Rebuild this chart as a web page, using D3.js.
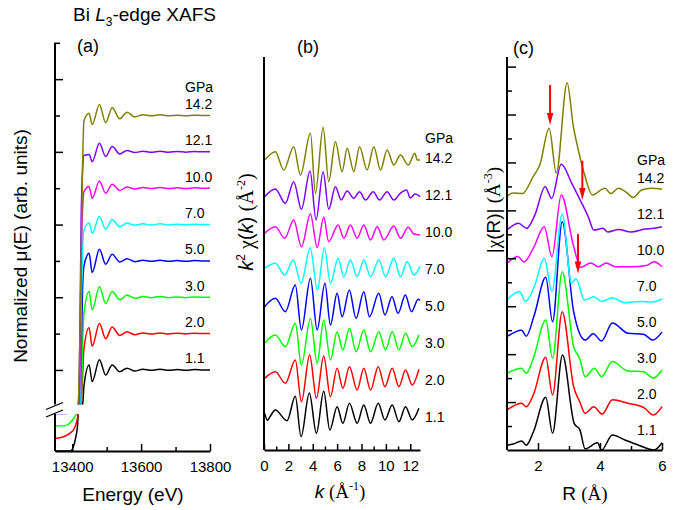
<!DOCTYPE html>
<html><head><meta charset="utf-8">
<script src="https://cdn.jsdelivr.net/npm/d3@7"></script>
<style>
body{margin:0;background:#fff}
svg text{font-family:"Liberation Sans",Arial,sans-serif;fill:#000}
</style></head>
<body><svg id="c" width="682" height="510"></svg>
<script>
// ---------- data ----------
const pressures = ["1.1","2.0","3.0","5.0","7.0","10.0","12.1","14.2"];
const colors = ["#000000","#ff0000","#00ff00","#0000ff","#00ffff","#ff00ff","#8000ff","#808000"];

// (a) XANES, normalized mu(E)
const energyGrid = [13350,13380,13395,13405,13411,13415,13418,13422,13426,13430,13434,13449,13458,13479,13497,13516,13538,13559,13582,13605,13630,13655,13680,13705,13730,13755,13780,13800];
const mu_1_1  = [0,0,0,0.048,0.12,0.19,0.32,0.55,0.78,0.88,0.955,1.014,0.968,1.028,0.986,1.014,0.995,1.005,0.997,1.002,0.999,1.002,0.999,1.001,0.999,1.001,1.000,1.000];
const mu_2_0  = [0,0.02,0.045,0.075,0.116,0.16,0.21,0.45,0.72,0.88,0.958,1.016,0.965,1.028,0.986,1.018,0.995,1.005,0.997,1.002,0.999,1.002,0.999,1.001,0.999,1.001,1.000,1.000];
const mu_3_0  = [0,0.003,0.028,0.064,0.09,0.11,0.15,0.35,0.68,0.87,0.955,1.016,0.965,1.029,0.983,1.016,0.993,1.006,0.997,1.002,0.999,1.002,0.999,1.001,0.999,1.001,1.000,1.000];
const mu_5_0  = [0,0,0.02,0.05,0.08,0.11,0.16,0.40,0.74,0.92,0.985,1.021,0.968,1.032,0.991,1.018,0.997,1.006,0.998,1.002,0.999,1.002,0.999,1.001,0.999,1.001,1.000,1.000];
const mu_7_0  = [0,0,0.02,0.05,0.08,0.11,0.17,0.42,0.77,0.93,0.985,1.004,0.976,1.022,0.987,1.013,0.994,1.004,0.998,1.002,0.999,1.002,0.999,1.001,0.999,1.001,1.000,1.000];
const mu_10_0 = [0,0,0.02,0.05,0.08,0.12,0.18,0.45,0.80,0.94,0.99,1.005,0.972,1.020,0.986,1.011,0.994,1.003,0.998,1.002,0.999,1.002,0.999,1.001,0.999,1.001,1.000,1.000];
const mu_12_1 = [0,0,0.02,0.05,0.08,0.12,0.20,0.48,0.82,0.95,0.99,0.993,0.973,1.024,0.987,1.015,0.994,1.004,0.998,1.002,0.999,1.002,0.999,1.001,0.999,1.001,1.000,1.000];
const mu_14_2 = [0,0,0.02,0.05,0.08,0.13,0.22,0.38,0.62,0.86,0.985,1.006,0.975,1.030,0.980,1.021,0.991,1.009,0.996,1.002,0.999,1.002,0.999,1.001,0.999,1.001,1.000,1.000];

// (b) k^2 chi(k): [k, value]
const chi_1_1  = [[0.05,0.4],[0.28,-0.35],[0.5,0.05],[0.93,0.76],[1.89,-0.4],[2.57,2.24],[3.04,-2.13],[3.72,2.6],[4.3,-1.77],[4.9,2.77],[5.4,-1.41],[6.0,1.11],[6.47,-0.68],[7.01,1.48],[7.64,-0.68],[8.19,1.3],[8.74,-0.68],[9.37,1.48],[9.92,-0.32],[10.52,1.3],[11.07,-0.51],[11.61,1.11],[12.16,-0.32],[12.71,0.94]];
const chi_2_0  = [[0.05,0.18],[0.93,0.9],[1.75,-0.36],[2.57,2.16],[3.07,-2.34],[3.75,2.7],[4.3,-1.98],[4.9,2.59],[5.45,-1.8],[6.0,1.26],[6.47,-0.9],[7.01,1.44],[7.64,-1.08],[8.19,1.26],[8.74,-1.08],[9.37,1.44],[9.92,-0.72],[10.52,1.26],[11.07,-0.72],[11.61,1.08],[12.16,-0.54],[12.71,1.16]];
const chi_3_0  = [[0.05,-0.03],[0.93,0.86],[1.75,-0.4],[2.57,2.13],[3.07,-2.38],[3.81,2.65],[4.36,-2.2],[4.9,2.49],[5.45,-1.84],[6.0,1.22],[6.47,-0.76],[7.01,1.59],[7.56,-0.94],[8.19,1.41],[8.74,-0.94],[9.42,1.22],[9.97,-0.76],[10.52,1.22],[11.07,-0.76],[11.61,1.05],[12.16,-0.4],[12.71,0.86]];
const chi_5_0  = [[0.05,-0.07],[0.93,0.83],[1.75,-0.61],[2.57,2.27],[3.07,-2.59],[3.81,2.99],[4.36,-2.59],[5.0,2.45],[5.45,-2.05],[6.0,1.37],[6.41,-1.17],[7.0,1.73],[7.55,-1.35],[8.19,1.55],[8.65,-1.17],[9.42,1.37],[9.92,-0.97],[10.5,1.0],[11.0,-0.79],[11.6,1.19],[12.1,-0.61],[12.65,0.72],[12.8,0.6]];
const chi_7_0  = [[0.05,0.08],[0.93,0.62],[1.7,-0.65],[2.4,0.97],[3.04,-1.55],[3.79,2.3],[4.38,-2.27],[4.95,2.3],[5.45,-1.55],[6.08,1.16],[6.55,-0.83],[7.09,0.97],[7.64,-0.83],[8.19,0.97],[8.74,-0.83],[9.43,0.97],[9.97,-0.83],[10.65,1.16],[11.2,-0.83],[11.75,0.79],[12.3,-0.65],[12.8,0.25]];
const chi_10_0 = [[0.05,-0.14],[0.93,0.57],[1.7,-0.68],[2.44,1.3],[3.07,-1.59],[3.81,1.95],[4.36,-1.66],[4.9,1.59],[5.31,-1.05],[6.08,0.76],[6.55,-0.68],[7.09,0.76],[7.64,-0.68],[8.19,0.76],[8.74,-0.86],[9.29,0.57],[9.83,-0.86],[10.65,0.65],[11.2,-0.68],[11.83,0.5],[12.3,-0.22],[12.8,-0.32]];
const chi_12_1 = [[0.05,-0.18],[0.93,0.65],[1.75,-0.9],[2.44,1.44],[3.07,-1.55],[3.78,2.59],[4.27,-2.7],[4.85,2.52],[5.31,-1.55],[5.86,0.9],[6.33,-0.54],[6.82,0.43],[7.37,-0.36],[7.84,0.36],[8.33,-0.54],[8.96,0.36],[9.48,-0.54],[10.1,0.36],[10.65,-0.54],[11.2,0.2],[11.7,0.54],[12.0,-0.32],[12.4,0.1],[12.8,-0.18]];
const chi_14_2 = [[0.05,-0.22],[0.93,0.68],[1.62,-1.3],[2.44,1.22],[2.99,-1.84],[3.81,2.67],[4.22,-3.82],[4.85,3.32],[5.31,-2.56],[5.86,1.76],[6.41,-1.48],[6.82,1.05],[7.37,-1.48],[7.84,1.22],[8.46,-1.3],[9.01,1.22],[9.56,-1.3],[10.1,0.86],[10.65,-0.76],[11.2,0.32],[11.83,-0.76],[12.38,0.5],[12.57,-0.22],[12.8,-0.22]];

// (c) |chi(R)|: [R, value]
const ft_1_1  = [[1.0,0.2],[1.2,0.25],[1.47,0.38],[1.62,0.2],[1.85,0.75],[2.25,2.2],[2.47,0.7],[2.79,3.96],[3.17,1.1],[3.35,0.85],[3.52,0.05],[3.92,0.3],[4.05,0.0],[4.4,0.63],[4.8,0.42],[5.25,0.2],[5.75,0.0],[6.0,0.3]];
const ft_2_0  = [[1.0,0.17],[1.47,0.45],[1.62,0.3],[1.85,0.8],[2.25,2.37],[2.47,0.8],[2.78,4.27],[3.15,1.14],[3.35,0.5],[3.52,0.03],[3.8,0.3],[4.07,0.0],[4.4,0.6],[4.9,0.45],[5.45,0.24],[5.72,-0.04],[6.0,0.31]];
const ft_3_0  = [[1.0,0.2],[1.47,0.41],[1.62,0.2],[1.85,0.83],[2.25,2.43],[2.47,0.83],[2.78,4.44],[3.15,1.31],[3.35,0.8],[3.52,0.06],[3.82,0.41],[4.05,0.06],[4.4,0.69],[4.9,0.3],[5.4,0.27],[5.72,0.0],[6.0,0.34]];
const ft_5_0  = [[1.0,0.23],[1.47,0.5],[1.62,0.25],[1.88,1.13],[2.25,2.71],[2.47,0.85],[2.78,5.03],[3.15,1.27],[3.52,0.09],[3.78,0.35],[4.05,0.05],[4.4,0.8],[4.9,0.37],[5.4,0.33],[5.7,0.09],[6.0,0.42]];
const ft_7_0  = [[1.0,0.26],[1.4,0.61],[1.6,0.2],[1.9,0.89],[2.2,2.0],[2.45,0.61],[2.78,3.85],[3.08,0.95],[3.22,1.16],[3.5,0.26],[3.8,0.4],[4.05,0.2],[4.4,0.35],[4.8,0.15],[5.3,0.2],[5.7,0.18],[6.0,0.3]];
const ft_10_0 = [[1.0,0.29],[1.35,0.57],[1.55,0.35],[1.85,0.92],[2.2,1.82],[2.45,0.57],[2.75,3.14],[3.15,0.99],[3.38,0.12],[3.7,0.3],[3.95,0.15],[4.2,0.3],[4.5,0.15],[5.0,0.15],[5.5,0.2],[5.75,0.36],[6.0,0.15]];
const ft_12_1 = [[1.0,0.18],[1.37,0.46],[1.63,0.25],[1.9,0.81],[2.23,1.99],[2.44,1.5],[2.75,2.92],[3.09,2.13],[3.41,1.3],[3.62,0.74],[3.8,0.18],[4.1,0.25],[4.25,0.1],[4.6,0.2],[5.0,0.1],[5.45,0.22],[5.75,0.25],[6.0,0.32]];
const ft_14_2 = [[1.0,0.1],[1.2,0.22],[1.5,0.2],[1.84,0.9],[2.06,1.4],[2.36,2.93],[2.59,1.05],[2.94,4.83],[3.14,3.0],[3.3,2.02],[3.52,0.91],[3.75,0.14],[4.16,0.42],[4.35,0.2],[4.59,0.42],[4.85,0.25],[5.07,0.04],[5.34,0.35],[5.67,0.42],[6.0,0.38]];

// red arrows in (c): R position, top and tip values (y units of panel c)
const arrowR   = [2.39, 3.43, 3.29];
const arrowTop = [15.23, 12.07, 9.01];
const arrowTip = [13.56, 10.43, 7.37];

// ticks
const ticksA_major = [13400,13600,13800], ticksA_minor = [13500,13700];
const ticksB_major = [0,2,4,6,8,10,12], ticksB_minor = [1,3,5,7,9,11];
const ticksC_major = [2,4,6], ticksC_minor = [3,5];

const muSeries  = [mu_1_1,mu_2_0,mu_3_0,mu_5_0,mu_7_0,mu_10_0,mu_12_1,mu_14_2];
const chiSeries = [chi_1_1,chi_2_0,chi_3_0,chi_5_0,chi_7_0,chi_10_0,chi_12_1,chi_14_2];
const ftSeries  = [ft_1_1,ft_2_0,ft_3_0,ft_5_0,ft_7_0,ft_10_0,ft_12_1,ft_14_2];

// ---------- drawing ----------
const svg = d3.select("#c");
const FONT = '"Liberation Sans",Arial,sans-serif';
const SERIF = '"Liberation Serif",serif';
const AXW = 2, TKW = 1.5, LW = 1.5;

function bottomAxis(scale, y, majors, minors, majLen, minLen){
  const g = svg.append("g").attr("transform",`translate(0,${y})`);
  g.call(d3.axisBottom(scale).tickValues(majors).tickSizeInner(-majLen).tickSizeOuter(0).tickPadding(10).tickFormat(d3.format("d")));
  const g2 = svg.append("g").attr("transform",`translate(0,${y})`);
  g2.call(d3.axisBottom(scale).tickValues(minors).tickSizeInner(-minLen).tickSizeOuter(0).tickFormat(""));
  g2.select(".domain").remove();
  [g,g2].forEach(a=>{
    a.selectAll("line").attr("stroke","#000").attr("stroke-width",TKW);
    a.select(".domain").attr("stroke","#000").attr("stroke-width",AXW);
    a.selectAll("text").attr("font-family",FONT).attr("font-size",15).attr("fill","#000");
  });
}
function leftTicks(scale, x, vals, len){
  const g = svg.append("g").attr("transform",`translate(${x},0)`);
  g.call(d3.axisLeft(scale).tickValues(vals).tickSizeInner(-len).tickSizeOuter(0).tickFormat(""));
  g.select(".domain").remove();
  g.selectAll("line").attr("stroke","#000").attr("stroke-width",TKW);
}
function vline(x,y1,y2){
  svg.append("line").attr("x1",x).attr("x2",x).attr("y1",y1).attr("y2",y2)
    .attr("stroke","#000").attr("stroke-width",AXW);
}

// ===== Panel (a) =====
const xA = d3.scaleLinear().domain([13350,13800]).range([55,210]);
const yA = d3.scaleLinear().domain([0,0.304,0.905,1.9]).range([451,413,404.5,42.8]);
const offA = 0.1;
const defs = svg.append("defs");
defs.append("clipPath").attr("id","clipUp").append("rect").attr("x",40).attr("y",38).attr("width",185).attr("height",366.5);
defs.append("clipPath").attr("id","clipLo").append("rect").attr("x",40).attr("y",414).attr("width",185).attr("height",40);
const lineA = d3.line().x(d=>xA(d[0])).y(d=>yA(d[1])).curve(d3.curveMonotoneX);
muSeries.forEach((mu,i)=>{
  const pts = energyGrid.map((e,j)=>[e, mu[j] + offA*i]);
  ["clipLo","clipUp"].forEach(c=>{
    svg.append("path").attr("d",lineA(pts)).attr("fill","none")
      .attr("stroke",colors[i]).attr("stroke-width",LW).attr("clip-path",`url(#${c})`);
  });
});
bottomAxis(xA, 451, ticksA_major, ticksA_minor, 7, 4);
vline(55, 42.8, 404.5); vline(55, 413.5, 451);
leftTicks(yA, 55, [1.0,1.2,1.4,1.6,1.8], 8);
leftTicks(yA, 55, [1.1,1.3,1.5,1.7,1.9], 5);
// axis break marks
svg.append("polygon").attr("points","46,410 64,403 64,410 46,417").attr("fill","#fff");
svg.append("line").attr("x1",46).attr("y1",409.5).attr("x2",63).attr("y2",402.5).attr("stroke","#000").attr("stroke-width",1.3);
svg.append("line").attr("x1",46).attr("y1",417).attr("x2",63).attr("y2",410).attr("stroke","#000").attr("stroke-width",1.3);

pressures.forEach((p,i)=>{
  svg.append("text").attr("x",185).attr("y",yA(1+offA*i)-6.5).attr("font-size",14).text(p);
});
svg.append("text").attr("x",185).attr("y",yA(1+offA*7)-24).attr("font-size",14).text("GPa");

const title = svg.append("text").attr("x",73).attr("y",21).attr("font-size",19);
title.append("tspan").text("Bi ");
title.append("tspan").attr("font-style","italic").text("L");
title.append("tspan").attr("font-size",12).attr("dy",5).text("3");
title.append("tspan").attr("dy",-5).text("-edge XAFS");
svg.append("text").attr("x",77).attr("y",52).attr("font-size",18).text("(a)");
svg.append("text").attr("x",133).attr("y",500.5).attr("text-anchor","middle").attr("font-size",19).text("Energy (eV)");
svg.append("text").attr("transform","translate(27,246) rotate(-90)").attr("text-anchor","middle").attr("font-size",19).text("Normalized \u03bc(E) (arb. units)");

// ===== Panel (b) =====
const xB = d3.scaleLinear().domain([0,12.8]).range([264,420]);
const yB = d3.scaleLinear().domain([-3.568,38.918]).range([450,57]);
const offB = 4;
const lineB = d3.line().x(d=>xB(d[0])).y(d=>yB(d[1])).curve(d3.curveMonotoneX);
chiSeries.forEach((s,i)=>{
  svg.append("path").attr("d",lineB(s.map(d=>[d[0], d[1]+offB*i]))).attr("fill","none")
    .attr("stroke",colors[i]).attr("stroke-width",LW);
  svg.append("text").attr("x",425).attr("y",yB(offB*i)+5).attr("font-size",14).text(pressures[i]);
});
svg.append("text").attr("x",425).attr("y",yB(offB*7)-15).attr("font-size",14).text("GPa");
bottomAxis(xB, 450, ticksB_major, ticksB_minor, 6, 3.5);
vline(264, 57, 450);
svg.append("text").attr("x",297).attr("y",53).attr("font-size",18).text("(b)");
const xlB = svg.append("text").attr("x",340).attr("y",498).attr("text-anchor","middle").attr("font-size",19);
xlB.append("tspan").attr("font-style","italic").text("k");
xlB.append("tspan").attr("font-family",SERIF).text(" (\u00c5");
xlB.append("tspan").attr("font-size",12).attr("dy",-8).attr("font-family",SERIF).text("-1");
xlB.append("tspan").attr("dy",8).attr("font-family",SERIF).text(")");
const ylB = svg.append("text").attr("transform","translate(253,222) rotate(-90)").attr("text-anchor","middle").attr("font-size",20);
ylB.append("tspan").attr("font-style","italic").text("k");
ylB.append("tspan").attr("font-size",12).attr("dy",-8).text("2");
ylB.append("tspan").attr("dy",8).attr("font-family",SERIF).text(" \u03c7");
ylB.append("tspan").text("(");
ylB.append("tspan").attr("font-style","italic").text("k");
ylB.append("tspan").text(") ");
ylB.append("tspan").attr("font-family",SERIF).text("(\u00c5");
ylB.append("tspan").attr("font-size",12).attr("dy",-8).attr("font-family",SERIF).text("-2");
ylB.append("tspan").attr("dy",8).attr("font-family",SERIF).text(")");

// ===== Panel (c) =====
const xC = d3.scaleLinear().domain([1,6]).range([507,662]);
const yC = d3.scaleLinear().domain([0,16.4]).range([450,57]);
const offC = 1.5;
const lineC = d3.line().x(d=>xC(d[0])).y(d=>yC(d[1])).curve(d3.curveMonotoneX);
ftSeries.forEach((s,i)=>{
  svg.append("path").attr("d",lineC(s.map(d=>[d[0], d[1]+offC*i]))).attr("fill","none")
    .attr("stroke",colors[i]).attr("stroke-width",LW);
  svg.append("text").attr("x",637).attr("y",yC(offC*i+0.85)+5).attr("font-size",14).text(pressures[i]);
});
svg.append("text").attr("x",637).attr("y",yC(offC*7+0.85)-13.5).attr("font-size",14).text("GPa");
bottomAxis(xC, 450, ticksC_major, ticksC_minor, 7, 4);
vline(507, 57, 450);
leftTicks(yC, 507, d3.range(2,17,2), 9);
leftTicks(yC, 507, d3.range(1,17,2), 5);
arrowR.forEach((r,i)=>{
  const x = xC(r), yt = yC(arrowTop[i]), yp = yC(arrowTip[i]);
  svg.append("line").attr("x1",x).attr("x2",x).attr("y1",yt).attr("y2",yp-10).attr("stroke","#ff0000").attr("stroke-width",2);
  svg.append("path").attr("d",`M${x-3.2},${yp-12}L${x+3.2},${yp-12}L${x},${yp}Z`).attr("fill","#ff0000");
});
svg.append("text").attr("x",513).attr("y",54).attr("font-size",18).text("(c)");
const xlC = svg.append("text").attr("x",585).attr("y",500).attr("text-anchor","middle").attr("font-size",19);
xlC.append("tspan").text("R ");
xlC.append("tspan").attr("font-family",SERIF).text("(\u00c5)");
const ylC = svg.append("text").attr("transform","translate(500,210) rotate(-90)").attr("text-anchor","middle").attr("font-size",19);
ylC.append("tspan").text("|");
ylC.append("tspan").attr("font-family",SERIF).text("\u03c7");
ylC.append("tspan").text("(R)| ");
ylC.append("tspan").attr("font-family",SERIF).text("(\u00c5");
ylC.append("tspan").attr("font-size",12).attr("dy",-8).attr("font-family",SERIF).text("-3");
ylC.append("tspan").attr("dy",8).attr("font-family",SERIF).text(")");
</script></body></html>
